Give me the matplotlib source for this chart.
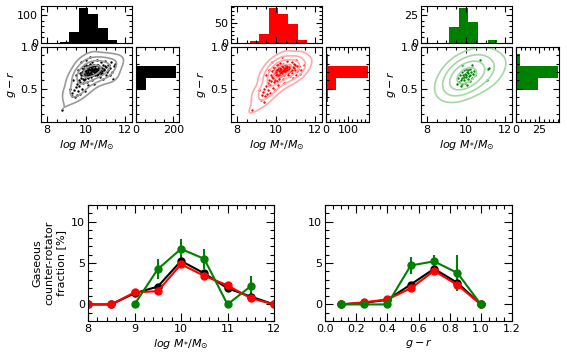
import matplotlib
matplotlib.use("Agg")
import matplotlib.pyplot as plt
import numpy as np
import seaborn as sns
from matplotlib.ticker import MultipleLocator

# ---- data ----
mass_edges = [8.65, 9.14, 9.63, 10.12, 10.61, 11.10, 11.59]
color_edges = [0.19, 0.335, 0.48, 0.625, 0.77, 0.915]

black_mass_hist = [4, 39, 124, 102, 52, 10]
red_mass_hist = [5, 22, 86, 73, 48, 7]
green_mass_hist = [0, 14, 31, 19, 0, 3]

black_color_hist = [2, 6, 56, 212, 6]
red_color_hist = [2, 8, 46, 190, 8]
green_color_hist = [0, 0, 23, 45, 4]

black_pts = [
    (10.02, 0.71), (10.15, 0.74), (9.88, 0.68), (10.31, 0.72), (10.47, 0.75), (9.95, 0.65), (10.63, 0.73), (10.21, 0.69), (10.08, 0.77), (9.79, 0.70),
    (10.38, 0.66), (10.55, 0.78), (10.12, 0.63), (9.91, 0.74), (10.27, 0.76), (10.71, 0.70), (10.44, 0.69), (10.03, 0.67), (9.84, 0.62), (10.18, 0.72),
    (10.59, 0.68), (10.35, 0.79), (9.97, 0.73), (10.83, 0.75), (10.26, 0.64), (10.11, 0.70), (9.73, 0.66), (10.49, 0.72), (10.67, 0.77), (10.05, 0.75),
    (10.92, 0.72), (10.41, 0.74), (9.86, 0.71), (10.22, 0.78), (10.77, 0.68), (10.14, 0.66), (9.99, 0.69), (10.53, 0.71), (10.30, 0.68), (11.02, 0.76),
    (10.87, 0.79), (9.92, 0.60), (10.36, 0.71), (10.61, 0.75), (10.09, 0.73), (10.45, 0.77), (9.81, 0.75), (11.10, 0.73), (10.24, 0.73), (10.69, 0.73),
    (10.00, 0.78), (10.57, 0.66), (9.94, 0.71), (10.33, 0.75), (10.96, 0.77), (10.17, 0.68), (10.74, 0.72), (9.76, 0.63), (10.42, 0.70), (11.18, 0.78),
    (10.28, 0.70), (10.06, 0.64), (10.51, 0.74), (9.89, 0.77), (10.80, 0.71), (10.13, 0.76), (10.39, 0.73), (11.05, 0.70), (9.97, 0.62), (10.65, 0.70),
    (10.19, 0.80), (10.58, 0.72), (9.83, 0.67), (10.46, 0.67), (10.90, 0.74), (10.25, 0.67), (10.72, 0.76), (10.04, 0.69), (11.25, 0.75), (10.37, 0.77),
    (9.69, 0.69), (10.10, 0.72), (10.62, 0.79), (10.29, 0.74), (10.84, 0.69), (9.90, 0.66), (10.50, 0.70), (11.13, 0.79), (10.16, 0.65), (10.43, 0.79),
    (9.62, 0.60), (9.55, 0.56), (9.71, 0.58), (9.85, 0.57), (10.05, 0.58), (10.32, 0.61), (10.70, 0.64), (11.00, 0.66), (9.48, 0.52), (9.66, 0.53),
    (9.39, 0.49), (9.58, 0.47), (9.80, 0.50), (10.10, 0.54), (9.30, 0.45), (9.52, 0.43), (9.44, 0.40), (9.26, 0.41), (9.68, 0.44), (9.95, 0.47),
    (10.40, 0.56), (10.85, 0.62), (11.35, 0.70), (11.45, 0.77), (11.30, 0.82), (11.22, 0.67), (10.20, 0.88), (10.55, 0.84), (10.78, 0.82), (9.60, 0.72),
    (9.47, 0.66), (9.35, 0.60), (8.75, 0.24), (9.20, 0.50), (11.50, 0.80), (10.97, 0.83), (9.75, 0.82), (10.00, 0.84), (10.30, 0.82), (11.40, 0.62),
]

red_pts = [
    (10.05, 0.72), (10.18, 0.75), (9.92, 0.69), (10.34, 0.71), (10.50, 0.76), (9.98, 0.66), (10.66, 0.74), (10.24, 0.70), (10.10, 0.78), (9.82, 0.71),
    (10.40, 0.67), (10.58, 0.77), (10.14, 0.64), (9.95, 0.75), (10.29, 0.77), (10.74, 0.71), (10.47, 0.70), (10.06, 0.68), (9.87, 0.63), (10.20, 0.73),
    (10.62, 0.69), (10.37, 0.80), (10.00, 0.74), (10.86, 0.76), (10.28, 0.65), (10.13, 0.71), (9.76, 0.67), (10.52, 0.73), (10.70, 0.78), (10.08, 0.76),
    (10.95, 0.73), (10.44, 0.75), (9.89, 0.72), (10.25, 0.79), (10.80, 0.69), (10.16, 0.67), (10.02, 0.70), (10.56, 0.72), (10.33, 0.69), (11.05, 0.77),
    (10.90, 0.80), (9.94, 0.61), (10.39, 0.72), (10.64, 0.76), (10.12, 0.74), (10.48, 0.78), (9.84, 0.76), (11.12, 0.74), (10.27, 0.74), (10.72, 0.74),
    (10.03, 0.79), (10.60, 0.67), (9.97, 0.72), (10.35, 0.76), (10.99, 0.78), (10.19, 0.69), (10.77, 0.73), (9.79, 0.64), (10.45, 0.71), (11.20, 0.77),
    (10.31, 0.71), (10.09, 0.65), (10.54, 0.75), (10.83, 0.72), (10.41, 0.74), (11.08, 0.71), (10.68, 0.71), (10.22, 0.81), (10.93, 0.75), (10.15, 0.62),
    (9.65, 0.61), (9.58, 0.57), (9.74, 0.59), (9.88, 0.58), (10.07, 0.59), (10.36, 0.62), (10.74, 0.65), (11.02, 0.67), (9.50, 0.53), (9.68, 0.54),
    (9.41, 0.50), (9.60, 0.48), (9.83, 0.51), (10.12, 0.55), (9.32, 0.46), (9.54, 0.44), (9.46, 0.41), (9.28, 0.42), (9.70, 0.45), (9.97, 0.48),
    (9.22, 0.37), (9.40, 0.34), (10.43, 0.57), (10.88, 0.63), (11.30, 0.72), (11.42, 0.78), (11.25, 0.68), (10.30, 0.88), (10.58, 0.83), (10.80, 0.82),
    (9.62, 0.73), (9.50, 0.67), (8.78, 0.24), (9.12, 0.48), (11.00, 0.84), (9.80, 0.82),
]

green_pts = [
    (9.85, 0.66), (9.95, 0.68), (10.05, 0.70), (9.78, 0.63), (9.90, 0.60), (10.12, 0.72), (10.20, 0.67), (9.70, 0.66), (10.00, 0.64), (10.28, 0.70),
    (9.92, 0.72), (10.08, 0.62), (9.82, 0.70), (10.15, 0.65), (9.98, 0.74), (10.35, 0.68), (9.74, 0.60), (10.22, 0.74), (9.88, 0.64), (10.02, 0.67),
    (10.42, 0.71), (9.65, 0.58), (10.10, 0.69), (9.60, 0.63), (10.30, 0.63), (9.80, 0.56), (9.95, 0.57), (10.18, 0.59), (9.55, 0.56), (10.48, 0.66),
    (9.80, 0.79), (10.30, 0.79), (10.70, 0.84), (11.10, 0.74), (11.20, 0.75), (11.05, 0.61), (9.75, 0.53), (10.05, 0.55),
]

# fractions of gaseous counter-rotators
mass_bins = [8.0, 8.5, 9.0, 9.5, 10.0, 10.5, 11.0, 11.5, 12.0]
black_frac_m = [0, 0, 1.35, 2.15, 5.25, 3.75, 1.95, 0.95, 0.0]
black_err_m = [0, 0, 0.3, 0.35, 0.4, 0.35, 0.3, 0.25, 0]
red_frac_m = [0, 0, 1.45, 1.6, 4.85, 3.45, 2.3, 0.75, 0.0]
red_err_m = [0, 0, 0.45, 0.4, 0.35, 0.3, 0.3, 0.25, 0]
green_mass_bins = [9.0, 9.5, 10.0, 10.5, 11.0, 11.5]
green_frac_m = [0, 4.25, 6.7, 5.5, 0, 2.2]
green_err_m = [0, 1.2, 1.2, 1.2, 0, 1.2]

color_bins = [0.1, 0.25, 0.4, 0.55, 0.7, 0.85, 1.0]
black_frac_c = [0, 0.2, 0.55, 2.4, 4.3, 2.6, 0]
black_err_c = [0, 0.15, 0.2, 0.3, 0.35, 0.35, 0]
red_frac_c = [0, 0.25, 0.6, 1.95, 4.05, 2.35, 0]
red_err_c = [0, 0.15, 0.2, 0.3, 0.35, 0.35, 0]
green_frac_c = [0, 0, 0, 4.7, 5.2, 3.8, 0]
green_err_c = [0, 0, 0, 1.0, 0.8, 2.2, 0]

W, H = 567.0, 357.0
fig = plt.figure(figsize=(W / 100, H / 100), dpi=100)


def px_axes(x0, y0, x1, y1):
    # axes box given in pixel coords of the picture (y down)
    return fig.add_axes([x0 / W, 1 - y1 / H, (x1 - x0) / W, (y1 - y0) / H])


def style(ax, xmaj, xmin, ymaj, ymin, length=5):
    ax.xaxis.set_major_locator(MultipleLocator(xmaj))
    ax.xaxis.set_minor_locator(MultipleLocator(xmin))
    ax.yaxis.set_major_locator(MultipleLocator(ymaj))
    ax.yaxis.set_minor_locator(MultipleLocator(ymin))
    ax.tick_params(which="both", direction="in", top=True, right=True,
                   labelsize=8, width=0.8, pad=2)
    ax.tick_params(which="major", length=length)
    ax.tick_params(which="minor", length=length * 0.5)
    for s in ax.spines.values():
        s.set_linewidth(0.8)


mass_label = r"$log\ M_{*}/M_{\odot}$"
mlim = (7.7, 12.35)

panels = [
    (41, "black", "#9a9a9a", black_pts, black_mass_hist, black_color_hist, 132, 100, 20, 230, 200, 50, 1.3),
    (231, "red", "#ffaaaa", red_pts, red_mass_hist, red_color_hist, 92, 50, 10, 196, 100, 20, 1.3),
    (421, "green", "#a6d6a6", green_pts, green_mass_hist, green_color_hist, 33, 25, 5, 46, 25, 5, 2.6),
]

for x0, col, kcol, pts, mh, ch, mtop, mmaj, mmin, ctop, cmaj, cmin, bw in panels:
    xs = [p[0] for p in pts]
    ys = [p[1] for p in pts]

    ax_top = px_axes(x0, 6, x0 + 91, 43)
    ax_sc = px_axes(x0, 47, x0 + 91, 122)
    ax_r = px_axes(x0 + 95, 47, x0 + 138, 122)

    ax_top.bar(mass_edges[:-1], mh, width=np.diff(mass_edges), align="edge",
               color=col, lw=0)
    ax_top.set_xlim(*mlim)
    ax_top.set_ylim(0, mtop)
    style(ax_top, 2, 0.5, mmaj, mmin, length=4)
    ax_top.tick_params(labelbottom=False)

    sns.kdeplot(x=xs, y=ys, ax=ax_sc, levels=[0.03, 0.15, 0.4, 0.75],
                bw_adjust=bw, color=kcol, linewidths=1.2)
    ax_sc.scatter(xs, ys, s=3, color=col, lw=0)
    ax_sc.set_xlim(*mlim)
    ax_sc.set_ylim(0.1, 1.0)
    style(ax_sc, 2, 0.5, 0.5, 0.1, length=4)
    ax_sc.set_xlabel(mass_label, fontsize=8, labelpad=2)
    ax_sc.set_ylabel(r"$g-r$", fontsize=8, labelpad=2)

    ax_r.barh(color_edges[:-1], ch, height=np.diff(color_edges), align="edge",
              color=col, lw=0)
    ax_r.set_ylim(0.1, 1.0)
    ax_r.set_xlim(0, ctop)
    style(ax_r, cmaj, cmin, 0.5, 0.1, length=4)
    ax_r.tick_params(labelleft=False)

# ---- bottom: counter-rotator fractions ----
axm = px_axes(88, 205, 274, 321)
axc = px_axes(325, 205, 512, 321)

kw = dict(fmt="-o", ms=5, lw=1.5, elinewidth=1.5, capsize=0)
axm.errorbar(mass_bins, black_frac_m, yerr=black_err_m, color="black", **kw)
axm.errorbar(mass_bins, red_frac_m, yerr=red_err_m, color="red", **kw)
axm.errorbar(green_mass_bins, green_frac_m, yerr=green_err_m, color="green", **kw)
axm.set_xlim(8, 12)
axm.set_ylim(-2, 12)
style(axm, 1, 0.2, 5, 1, length=6)
axm.set_xlabel(mass_label, fontsize=8, labelpad=2)
axm.set_ylabel("Gaseous\ncounter-rotator\nfraction [%]", fontsize=8, labelpad=4)

axc.errorbar(color_bins, black_frac_c, yerr=black_err_c, color="black", **kw)
axc.errorbar(color_bins, red_frac_c, yerr=red_err_c, color="red", **kw)
axc.errorbar(color_bins, green_frac_c, yerr=green_err_c, color="green", **kw)
axc.set_xlim(0.0, 1.2)
axc.set_ylim(-2, 12)
style(axc, 0.2, 0.05, 5, 1, length=6)
axc.set_xlabel(r"$g-r$", fontsize=8, labelpad=2)

fig.savefig("out.png", dpi=100)
